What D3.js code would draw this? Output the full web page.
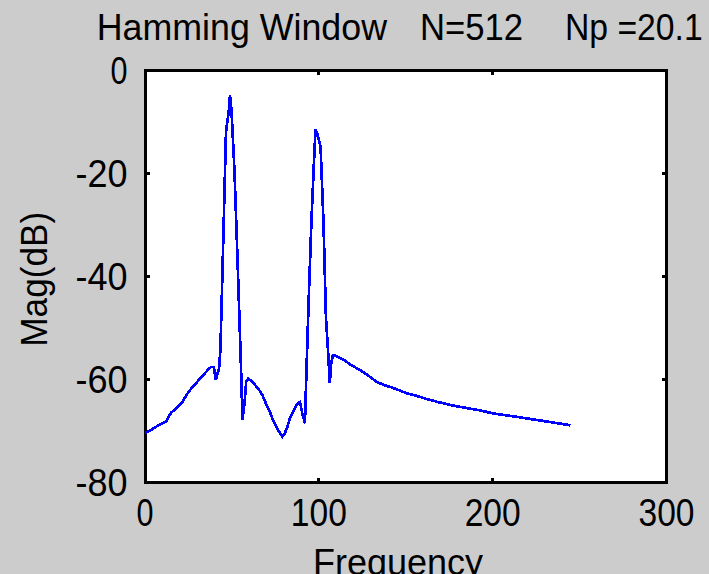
<!DOCTYPE html>
<html>
<head>
<meta charset="utf-8">
<script src="https://cdn.jsdelivr.net/npm/d3@7/dist/d3.min.js"></script>
<style>
  html, body { margin: 0; padding: 0; background: #cccccc; overflow: hidden; }
  svg { display: block; }
  text { font-family: "Liberation Sans", Arial, sans-serif; fill: #000; }
</style>
</head>
<body>
<script>
// Spectrum magnitude (dB) against frequency for a Hamming-windowed signal
const freq = [0, 3.4, 8.2, 12.0, 14.9, 18.8, 21.6, 24.5, 27.4, 30.2, 33.1, 36.0, 37.9, 39.6, 40.7,
  42.6, 43.4, 45.0, 46.6, 48.2, 48.9, 49.8, 51.5, 53.2, 55.1, 56.1, 57.4, 58.2, 59.3, 61.8, 64.1,
  66.0, 67.5, 69.0, 70.4, 71.9, 73.6, 75.6, 77.1, 79.0, 80.5, 81.9, 83.4, 85.1, 86.8, 88.5, 89.2,
  90.5, 92.0, 92.7, 94.1, 95.7, 97.3, 98.1, 99.3, 101.0, 102.7, 104.1, 105.6, 106.3, 107.0, 108.0,
  109.6, 114.0, 118.6, 123.9, 128.7, 133.5, 137.7, 142.5, 150.7, 156.5, 162.2, 168.8, 176.5, 184.2,
  192.8, 200.4, 211.0, 222.4, 233.9, 244.8];
const magDb = [-70.4, -69.8, -68.8, -68.2, -66.5, -65.3, -64.3, -62.7, -61.4, -60.4, -59.3, -58.2, -57.6, -57.6, -60.1,
  -57.8, -54.1, -33.3, -11.9, -7.8, -4.8, -8.0, -19.7, -36.4, -56.2, -67.9, -64.0, -60.5, -59.8, -60.4, -61.4,
  -62.2, -63.0, -64.2, -65.3, -66.3, -67.9, -69.2, -70.1, -71.1, -70.4, -69.2, -67.5, -66.3, -65.1, -64.5, -64.4,
  -66.6, -68.5, -60.4, -45.2, -29.7, -17.0, -11.4, -12.5, -14.8, -29.7, -47.9, -56.2, -60.7, -57.2, -55.4,
  -55.4, -56.1, -57.2, -58.2, -59.3, -60.5, -61.1, -61.6, -62.7, -63.2, -63.8, -64.4, -65.0, -65.5,
  -66.0, -66.6, -67.1, -67.7, -68.3, -68.9];

const xTicks = [0, 100, 200, 300];
const yTicks = [0, -20, -40, -60, -80];
const xTickLabels = ["0", "100", "200", "300"];
const yTickLabels = ["0", "-20", "-40", "-60", "-80"];
const titleParts = ["Hamming Window", "N=512", "Np =20.1"];
const xLabel = "Frequency";
const yLabel = "Mag(dB)";

const W = 709, H = 574;
const plotLeft = 145, plotRight = 666.5, plotTop = 70.5, plotBottom = 482.5;

const svg = d3.select("body").append("svg").attr("width", W).attr("height", H);
svg.append("rect").attr("width", W).attr("height", H).attr("fill", "#cccccc");

const x = d3.scaleLinear().domain([0, 300]).range([plotLeft, plotRight]);
const y = d3.scaleLinear().domain([-80, 0]).range([plotBottom, plotTop]);

// white plotting area
svg.append("rect")
  .attr("x", plotLeft).attr("y", plotTop)
  .attr("width", plotRight - plotLeft).attr("height", plotBottom - plotTop)
  .attr("fill", "#ffffff");

// tick marks pointing inward on all four sides
const tickLen = 4.5;
const tickG = svg.append("g").attr("stroke", "#000").attr("stroke-width", 2.7).attr("shape-rendering", "crispEdges");
xTicks.forEach(t => {
  tickG.append("line").attr("x1", x(t)).attr("x2", x(t)).attr("y1", plotBottom).attr("y2", plotBottom - tickLen);
  tickG.append("line").attr("x1", x(t)).attr("x2", x(t)).attr("y1", plotTop).attr("y2", plotTop + tickLen);
});
yTicks.forEach(t => {
  tickG.append("line").attr("x1", plotLeft).attr("x2", plotLeft + tickLen).attr("y1", y(t)).attr("y2", y(t));
  tickG.append("line").attr("x1", plotRight).attr("x2", plotRight - tickLen).attr("y1", y(t)).attr("y2", y(t));
});

// frame
svg.append("rect")
  .attr("x", plotLeft).attr("y", plotTop)
  .attr("width", plotRight - plotLeft).attr("height", plotBottom - plotTop)
  .attr("fill", "none").attr("stroke", "#000").attr("stroke-width", 3)
  .attr("shape-rendering", "crispEdges");

// tick labels
const fs = 38;
const digitW = 17, dashW = 13;
const labelWidth = s => s.split("").reduce((a, c) => a + (c === "-" ? dashW : digitW) + 2.5, -2.5);

svg.append("g").selectAll("text").data(xTicks).join("text")
  .attr("x", d => x(d))
  .attr("y", 526)
  .attr("text-anchor", "middle")
  .attr("font-size", fs)
  .attr("textLength", (d, i) => labelWidth(xTickLabels[i]))
  .attr("lengthAdjust", "spacingAndGlyphs")
  .text((d, i) => xTickLabels[i]);

svg.append("g").selectAll("text").data(yTicks).join("text")
  .attr("x", 127.5)
  .attr("y", d => y(d) + 13.5)
  .attr("text-anchor", "end")
  .attr("font-size", fs)
  .attr("textLength", (d, i) => labelWidth(yTickLabels[i]))
  .attr("lengthAdjust", "spacingAndGlyphs")
  .text((d, i) => yTickLabels[i]);

// title pieces
const titleX = [96.7, 420, 565];
const titleLen = [290.3, 103, 137.7];
svg.append("g").selectAll("text").data(titleParts).join("text")
  .attr("x", (d, i) => titleX[i])
  .attr("y", 39.5)
  .attr("font-size", 37)
  .attr("textLength", (d, i) => titleLen[i])
  .attr("lengthAdjust", "spacingAndGlyphs")
  .text(d => d);

// axis titles
svg.append("text")
  .attr("x", 313).attr("y", 575)
  .attr("font-size", 37)
  .attr("textLength", 170)
  .attr("lengthAdjust", "spacingAndGlyphs")
  .text(xLabel);

svg.append("text")
  .attr("transform", "translate(46.7,279.2) rotate(-90)")
  .attr("text-anchor", "middle")
  .attr("font-size", 37)
  .attr("textLength", 135)
  .attr("lengthAdjust", "spacingAndGlyphs")
  .text(yLabel);

// spectrum trace
const pts = freq.map((f, i) => [f, magDb[i]]);
const line = d3.line().x(d => x(d[0])).y(d => y(d[1]));
svg.append("path")
  .datum(pts)
  .attr("d", line)
  .attr("fill", "none")
  .attr("stroke", "#0000ff")
  .attr("stroke-width", 2.7)
  .attr("stroke-linejoin", "miter")
  .attr("shape-rendering", "crispEdges");
</script>
</body>
</html>
